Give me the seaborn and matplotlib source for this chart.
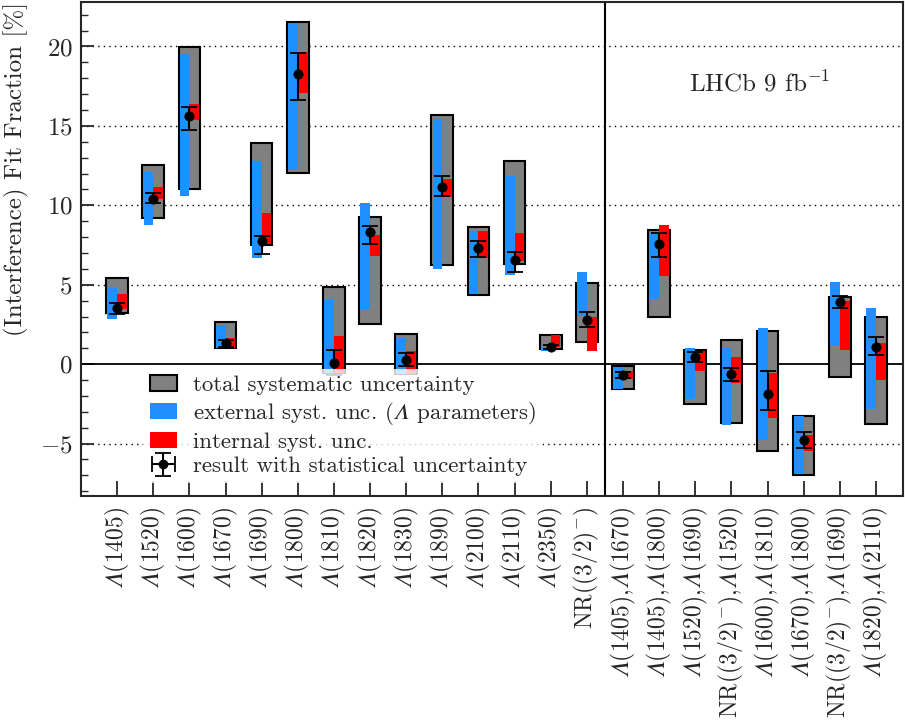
import numpy as np
import matplotlib
matplotlib.use("Agg")
import matplotlib.pyplot as plt
import seaborn as sns

L = "$\U0001D6EC$"
NR = r"NR$((3/2)^{-})$"
categories = [
    L + "(1405)", L + "(1520)", L + "(1600)", L + "(1670)", L + "(1690)",
    L + "(1800)", L + "(1810)", L + "(1820)", L + "(1830)", L + "(1890)",
    L + "(2100)", L + "(2110)", L + "(2350)", NR,
    L + "(1405)," + L + "(1670)", L + "(1405)," + L + "(1800)",
    L + "(1520)," + L + "(1690)", NR + "," + L + "(1520)",
    L + "(1600)," + L + "(1810)", L + "(1670)," + L + "(1800)",
    NR + "," + L + "(1690)", L + "(1820)," + L + "(2110)",
]

total_lo = [3.19, 9.18, 11.01, 1.03, 7.48, 12.04, -0.57, 2.54, -0.59, 6.22, 4.33, 6.28, 0.97, 1.41,
            -1.55, 2.98, -2.52, -3.68, -5.46, -6.95, -0.82, -3.74]
total_hi = [5.44, 12.56, 19.96, 2.63, 13.91, 21.51, 4.87, 9.24, 1.87, 15.69, 8.63, 12.79, 1.83, 5.13,
            -0.13, 8.45, 0.92, 1.51, 2.06, -3.26, 4.24, 2.98]
ext_lo = [2.84, 8.76, 10.59, 1.03, 6.70, 12.27, -0.57, 3.47, -0.59, 6.01, 4.41, 5.61, 0.84, 3.03,
          -1.55, 4.08, -2.18, -3.84, -4.79, -6.89, 1.18, -2.82]
ext_hi = [4.83, 12.10, 19.54, 2.46, 12.77, 21.43, 4.08, 10.15, 1.66, 15.44, 8.38, 11.85, 1.09, 5.80,
          -0.17, 8.24, 0.99, 1.03, 2.25, -3.26, 5.15, 3.51]
int_lo = [3.45, 10.38, 15.38, 1.03, 7.56, 17.08, -0.57, 6.83, -0.59, 10.55, 6.70, 6.49, 1.09, 0.84,
          -0.92, 5.55, -0.42, -1.18, -3.38, -5.48, 0.90, -0.99]
int_hi = [4.41, 11.16, 16.39, 1.66, 9.54, 19.64, 1.78, 8.13, 0.82, 11.66, 8.38, 8.26, 1.83, 2.96,
          -0.44, 8.76, 0.80, 0.44, -0.57, -4.47, 3.97, 1.32]
value = [3.51, 10.40, 15.63, 1.32, 7.73, 18.28, 0.10, 8.30, 0.25, 11.16, 7.29, 6.55, 1.07, 2.77,
         -0.69, 7.54, 0.46, -0.63, -1.87, -4.79, 3.91, 1.07]
stat_lo = [3.15, 10.15, 14.75, 1.09, 6.93, 16.66, -0.70, 7.58, -0.13, 10.57, 6.74, 5.78, 0.95, 2.35,
           -0.86, 6.74, 0.15, -1.03, -2.86, -5.27, 3.51, 0.59]
stat_hi = [3.82, 10.76, 16.18, 1.51, 8.09, 19.58, 0.92, 8.68, 0.71, 11.85, 7.73, 7.08, 1.20, 3.30,
           -0.50, 8.28, 0.78, -0.23, -0.40, -4.29, 4.26, 1.72]

sns.set_style("ticks")
plt.rcParams.update({
    "font.family": ["cmr10", "DejaVu Serif"],
    "mathtext.fontset": "cm",
    "axes.formatter.use_mathtext": True,
    "axes.unicode_minus": True,
    "axes.linewidth": 1.5,
    "xtick.direction": "in",
    "ytick.direction": "in",
})

fig = plt.figure(figsize=(9.05, 7.24), dpi=100)
ax = fig.add_axes([81 / 905, 1 - 496 / 724, 822 / 905, 494 / 724])

x = np.arange(len(categories))
tlo, thi = np.array(total_lo), np.array(total_hi)
elo, ehi = np.array(ext_lo), np.array(ext_hi)
ilo, ihi = np.array(int_lo), np.array(int_hi)
val = np.array(value)

for yv in [-5, 5, 10, 15, 20]:
    ax.axhline(yv, color="black", lw=1.0, ls=(0, (1, 3)), zorder=0.5)
ax.axhline(0, color="black", lw=1.3, zorder=0.6)
ax.axvline(13.5, color="black", lw=1.5, zorder=0.6)

ax.bar(x, thi - tlo, bottom=tlo, width=0.6, color="#808080", edgecolor="black",
       linewidth=1.5, zorder=2, label="total systematic uncertainty")
ax.bar(x - 0.135, ehi - elo, bottom=elo, width=0.27, color="#1E90FF", linewidth=0,
       zorder=3, label="external syst. unc. (" + L + " parameters)")
ax.bar(x + 0.135, ihi - ilo, bottom=ilo, width=0.27, color="#FF0000", linewidth=0,
       zorder=4, label="internal syst. unc.")
ax.errorbar(x, val, yerr=[val - np.array(stat_lo), np.array(stat_hi) - val], fmt="none",
            ecolor="black", elinewidth=1.5, capsize=5.5, capthick=1.3, zorder=5)
sns.scatterplot(x=x, y=val, color="black", s=45, edgecolor="black", zorder=6, ax=ax, legend=False)
ax.errorbar([np.nan], [np.nan], xerr=[1], yerr=[1], fmt="o", color="black",
            ms=6, elinewidth=1.5, capsize=5.5, capthick=1.3,
            label="result with statistical uncertainty")

ax.set_xlim(-1, 21.75)
ax.set_ylim(-8.3, 22.8)
ax.set_xticks(x)
ax.set_xticklabels(categories, rotation=90, fontsize=17)
ax.set_yticks([-5, 0, 5, 10, 15, 20])
ax.set_yticks(np.arange(-8, 23, 1), minor=True)
ax.tick_params(axis="y", which="major", length=9, width=1.3, labelsize=18, pad=6)
ax.tick_params(axis="y", which="minor", length=5, width=1.0)
ax.tick_params(axis="x", which="major", length=11, width=1.3, pad=8)
ax.set_ylabel("(Interference) Fit Fraction [%]", fontsize=18, loc="top", labelpad=8)
for s in ax.spines.values():
    s.set_visible(True)
    s.set_linewidth(1.5)

ax.text(0.825, 0.835, r"LHCb 9 fb$^{-1}$", transform=ax.transAxes, fontsize=18,
        ha="center", va="center")

leg = ax.legend(loc="upper left", bbox_to_anchor=(0.075, 0.258), borderaxespad=0,
                fontsize=16.5, frameon=True, framealpha=0.8, edgecolor="none", fancybox=False,
                handlelength=1.2, handleheight=0.7, handletextpad=0.7, labelspacing=0.2,
                borderpad=0.3)
leg.set_zorder(10)

fig.savefig("out.png", dpi=100)
